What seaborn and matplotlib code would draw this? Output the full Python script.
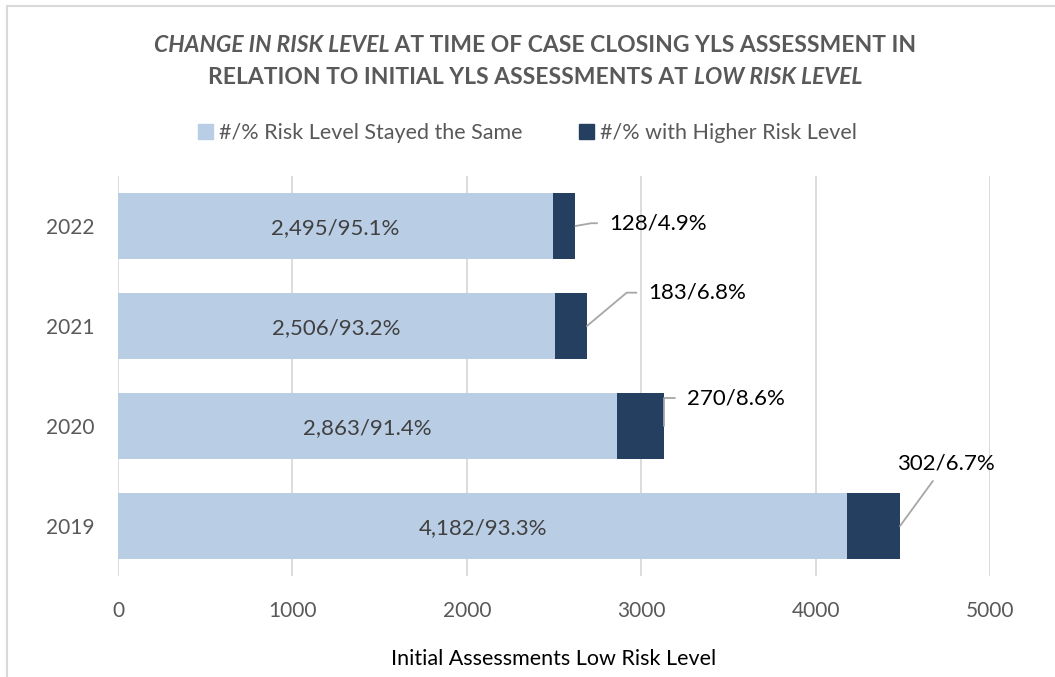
import matplotlib.pyplot as plt
import seaborn as sns
import pandas as pd
from matplotlib.lines import Line2D
from matplotlib.patches import Patch

# chart data
years = ["2022", "2021", "2020", "2019"]
same_level = [2495, 2506, 2863, 4182]
higher_level = [128, 183, 270, 302]
same_labels = ["2,495/95.1%", "2,506/93.2%", "2,863/91.4%", "4,182/93.3%"]
higher_labels = ["128/4.9%", "183/6.8%", "270/8.6%", "302/6.7%"]
x_ticks = [0, 1000, 2000, 3000, 4000, 5000]

light = "#B9CDE5"
dark = "#243F60"
grey_txt = "#595959"

sns.set_theme(style="white")
plt.rcParams["font.family"] = ["Lato", "DejaVu Sans"]

df = pd.DataFrame({"year": years, "same": same_level, "higher": higher_level})
df["total"] = df["same"] + df["higher"]

fig = plt.figure(figsize=(10.55, 6.77), dpi=100)
ax = fig.add_axes([0.1118, 0.1492, 0.8266, 0.5908])

# stacked bars: total first (dark) then the "same" part on top of it
sns.barplot(data=df, y="year", x="total", color=dark, orient="h", width=0.66,
            ax=ax, saturation=1, zorder=3, linewidth=0)
sns.barplot(data=df, y="year", x="same", color=light, orient="h", width=0.66,
            ax=ax, saturation=1, zorder=3, linewidth=0)

ax.set_xlim(0, 5000)
ax.set_ylim(3.5, -0.5)
ax.set_xticks(x_ticks)
ax.xaxis.grid(True, color="#D9D9D9", linewidth=1.3, zorder=0)
ax.yaxis.grid(False)
for s in ax.spines.values():
    s.set_visible(False)
ax.tick_params(axis="both", length=0, labelsize=15, labelcolor=grey_txt)
ax.tick_params(axis="x", pad=18)
ax.tick_params(axis="y", pad=17)
ax.set_ylabel("")
ax.set_xlabel("Initial Assessments Low Risk Level", fontsize=15.5, color="black",
              labelpad=20)

# labels inside the light segments
for i, (v, lab) in enumerate(zip(same_level, same_labels)):
    ax.text(v / 2, i + 0.02, lab, ha="center", va="center", fontsize=16,
            color="#404040", zorder=5)

# labels for the dark segments with leader lines (offsets in points)
offsets = [(24, 2), (44, 24), (16, 20), (33, 38)]
conns = ["angle,angleA=0,angleB=10,rad=0", "angle,angleA=0,angleB=40,rad=0",
         "angle,angleA=0,angleB=90,rad=0", None]
for i, (tot, lab, off, cs) in enumerate(zip(df["total"], higher_labels, offsets, conns)):
    if cs is None:
        ax.annotate(lab, xy=(tot, i), xytext=off, textcoords="offset points",
                    ha="center", va="bottom", fontsize=16, color="black",
                    arrowprops=dict(arrowstyle="-", color="#A6A6A6", lw=1.3,
                                    shrinkA=4, shrinkB=0), zorder=5)
    else:
        ax.annotate(lab, xy=(tot, i), xytext=off, textcoords="offset points",
                    ha="left", va="center", fontsize=16, color="black",
                    arrowprops=dict(arrowstyle="-", color="#A6A6A6", lw=1.3,
                                    connectionstyle=cs, shrinkA=6, shrinkB=0),
                    zorder=5)

# legend
handles = [Patch(color=light), Patch(color=dark)]
fig.legend(handles, ["#/% Risk Level Stayed the Same", "#/% with Higher Risk Level"],
           loc="center", bbox_to_anchor=(0.5, 1 - 133 / 677), ncol=2, frameon=False,
           fontsize=15.5, labelcolor=grey_txt, handlelength=0.7, handleheight=0.7,
           handletextpad=0.3, columnspacing=2.6)

# title with italic pieces
lines = [
    [("CHANGE IN RISK LEVEL", "italic"), (" AT TIME OF CASE CLOSING YLS ASSESSMENT IN", "normal")],
    [("RELATION TO INITIAL YLS ASSESSMENTS AT ", "normal"), ("LOW RISK LEVEL", "italic")],
]
renderer = fig.canvas.get_renderer()
W = fig.bbox.width
for ly, parts in zip([46, 78], lines):
    texts = []
    for s, st in parts:
        t = fig.text(0, 1 - ly / 677, s, fontsize=16.5, fontweight="bold", style=st,
                     color=grey_txt, ha="left", va="center")
        texts.append(t)
    widths = [t.get_window_extent(renderer).width for t in texts]
    x = (535 - sum(widths) / 2) / W
    for t, w in zip(texts, widths):
        t.set_x(x)
        x += w / W

# chart border (left and top edges)
fig.add_artist(Line2D([7 / W, 7 / W], [0, 1 - 6 / 677], color="#D9D9D9", lw=1.5))
fig.add_artist(Line2D([7 / W, 1], [1 - 6 / 677, 1 - 6 / 677], color="#D9D9D9", lw=1.5))

fig.savefig("out.png", dpi=100)
